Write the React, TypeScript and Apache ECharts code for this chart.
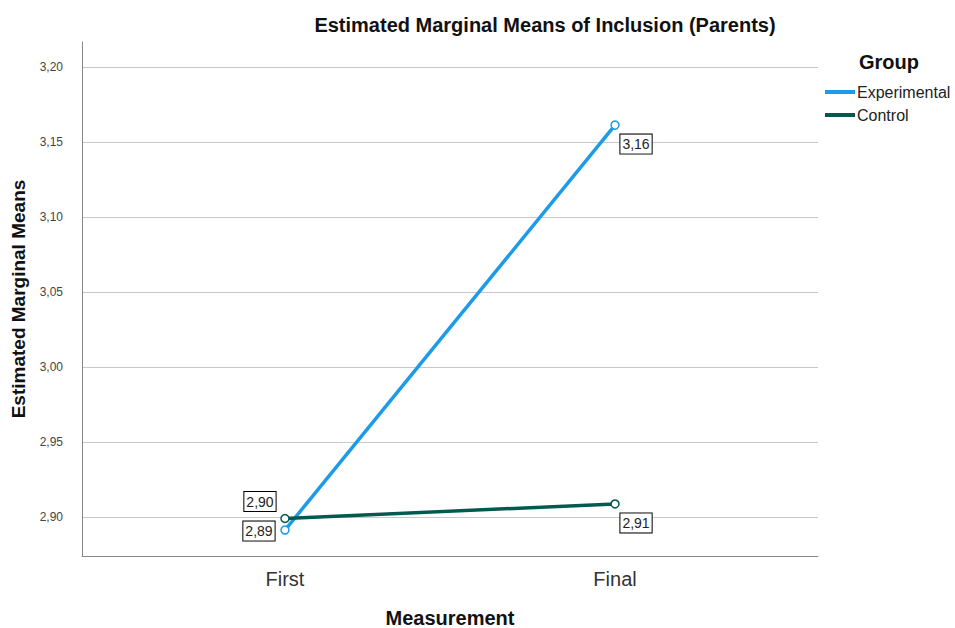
import React, { useEffect, useRef } from "react";
import * as echarts from "echarts";

const categories = ["First", "Final"];
const experimental = [2.8913, 3.1613];
const control = [2.899, 2.9087];
const yTicks = [2.9, 2.95, 3.0, 3.05, 3.1, 3.15, 3.2];
const seriesNames = ["Experimental", "Control"];
const seriesColors = ["#1c9be8", "#005a4e"];

const fmt = (v: number) => v.toFixed(2).replace(".", ",");
const FONT = "'Liberation Sans', Arial, sans-serif";

export default function App() {
  const ref = useRef<HTMLDivElement>(null);
  useEffect(() => {
    if (!ref.current) return;
    const chart = echarts.init(ref.current, undefined, { renderer: "svg" });
    const labelBase = {
      show: true,
      formatter: (p: any) => fmt(p.value[1]),
      color: "#222",
      fontSize: 14,
      fontFamily: FONT,
      backgroundColor: "#fff",
      borderColor: "#000",
      borderWidth: 1,
      padding: [3, 2, 2, 2],
      position: "inside",
    };
    chart.setOption({
      animation: false,
      backgroundColor: "#fff",
      title: [
        {
          text: "Estimated Marginal Means of Inclusion (Parents)",
          left: 540,
          textAlign: "center",
          top: 10,
          textStyle: { fontSize: 20, fontWeight: "bold", color: "#111", fontFamily: FONT },
        },
        {
          text: "Group",
          left: 854,
          top: 47,
          textStyle: { fontSize: 20, fontWeight: "bold", color: "#111", fontFamily: FONT },
        },
      ],
      legend: {
        orient: "vertical",
        left: 820,
        top: 79,
        icon: "rect",
        itemWidth: 30,
        itemHeight: 4,
        itemGap: 7,
        data: seriesNames.map((n, i) => ({
          name: n,
          itemStyle: { color: seriesColors[i], borderWidth: 0 },
        })),
        textStyle: { fontSize: 16, color: "#222", fontFamily: FONT, padding: [0, 0, 0, -3] },
      },
      grid: { left: 82, right: 137, top: 42, bottom: 72, outerBoundsMode: "none" },
      xAxis: {
        type: "value",
        min: -0.615,
        max: 1.615,
        axisLine: { show: true, onZero: false, lineStyle: { color: "#888", width: 1 } },
        axisTick: { show: false },
        splitLine: { show: false },
        axisLabel: {
          customValues: [0, 1],
          formatter: (v: number) => categories[Math.round(v)] ?? "",
          fontSize: 20,
          color: "#333",
          margin: 13,
          fontFamily: FONT,
        },
        name: "Measurement",
        nameLocation: "middle",
        nameGap: 52,
        nameTextStyle: { fontSize: 20, fontWeight: "bold", color: "#111", fontFamily: FONT },
      },
      yAxis: {
        type: "value",
        min: 2.874,
        max: 3.2167,
        axisLine: { show: true, onZero: false, lineStyle: { color: "#888", width: 1 } },
        axisTick: { show: false, customValues: yTicks },
        splitLine: { show: true, lineStyle: { color: "#c8c8c8", width: 1 } },
        axisLabel: {
          customValues: yTicks,
          formatter: (v: number) => fmt(v),
          fontSize: 12,
          color: "#444",
          margin: 19,
          fontFamily: FONT,
        },
        name: "Estimated Marginal Means",
        nameLocation: "middle",
        nameGap: 54,
        nameTextStyle: { fontSize: 19, fontWeight: "bold", color: "#111", fontFamily: FONT },
      },
      series: [
        {
          name: seriesNames[0],
          type: "line",
          data: experimental.map((v, i) => ({
            value: [i, v],
            label: { ...labelBase, offset: i === 0 ? [-26, 1] : [21, 19] },
          })),
          symbol: "circle",
          symbolSize: 8,
          lineStyle: { color: seriesColors[0], width: 3.5 },
          itemStyle: { color: "#fff", borderColor: seriesColors[0], borderWidth: 1.5 },
          color: seriesColors[0],
          z: 2,
        },
        {
          name: seriesNames[1],
          type: "line",
          data: control.map((v, i) => ({
            value: [i, v],
            label: { ...labelBase, offset: i === 0 ? [-25, -17] : [21, 19] },
          })),
          symbol: "circle",
          symbolSize: 8,
          lineStyle: { color: seriesColors[1], width: 3.5 },
          itemStyle: { color: "#fff", borderColor: seriesColors[1], borderWidth: 1.5 },
          color: seriesColors[1],
          z: 3,
        },
      ],
    });
    return () => chart.dispose();
  }, []);
  return (
    <div
      ref={ref}
      style={{ position: "fixed", left: 0, top: 0, width: 955, height: 628 }}
    />
  );
}
